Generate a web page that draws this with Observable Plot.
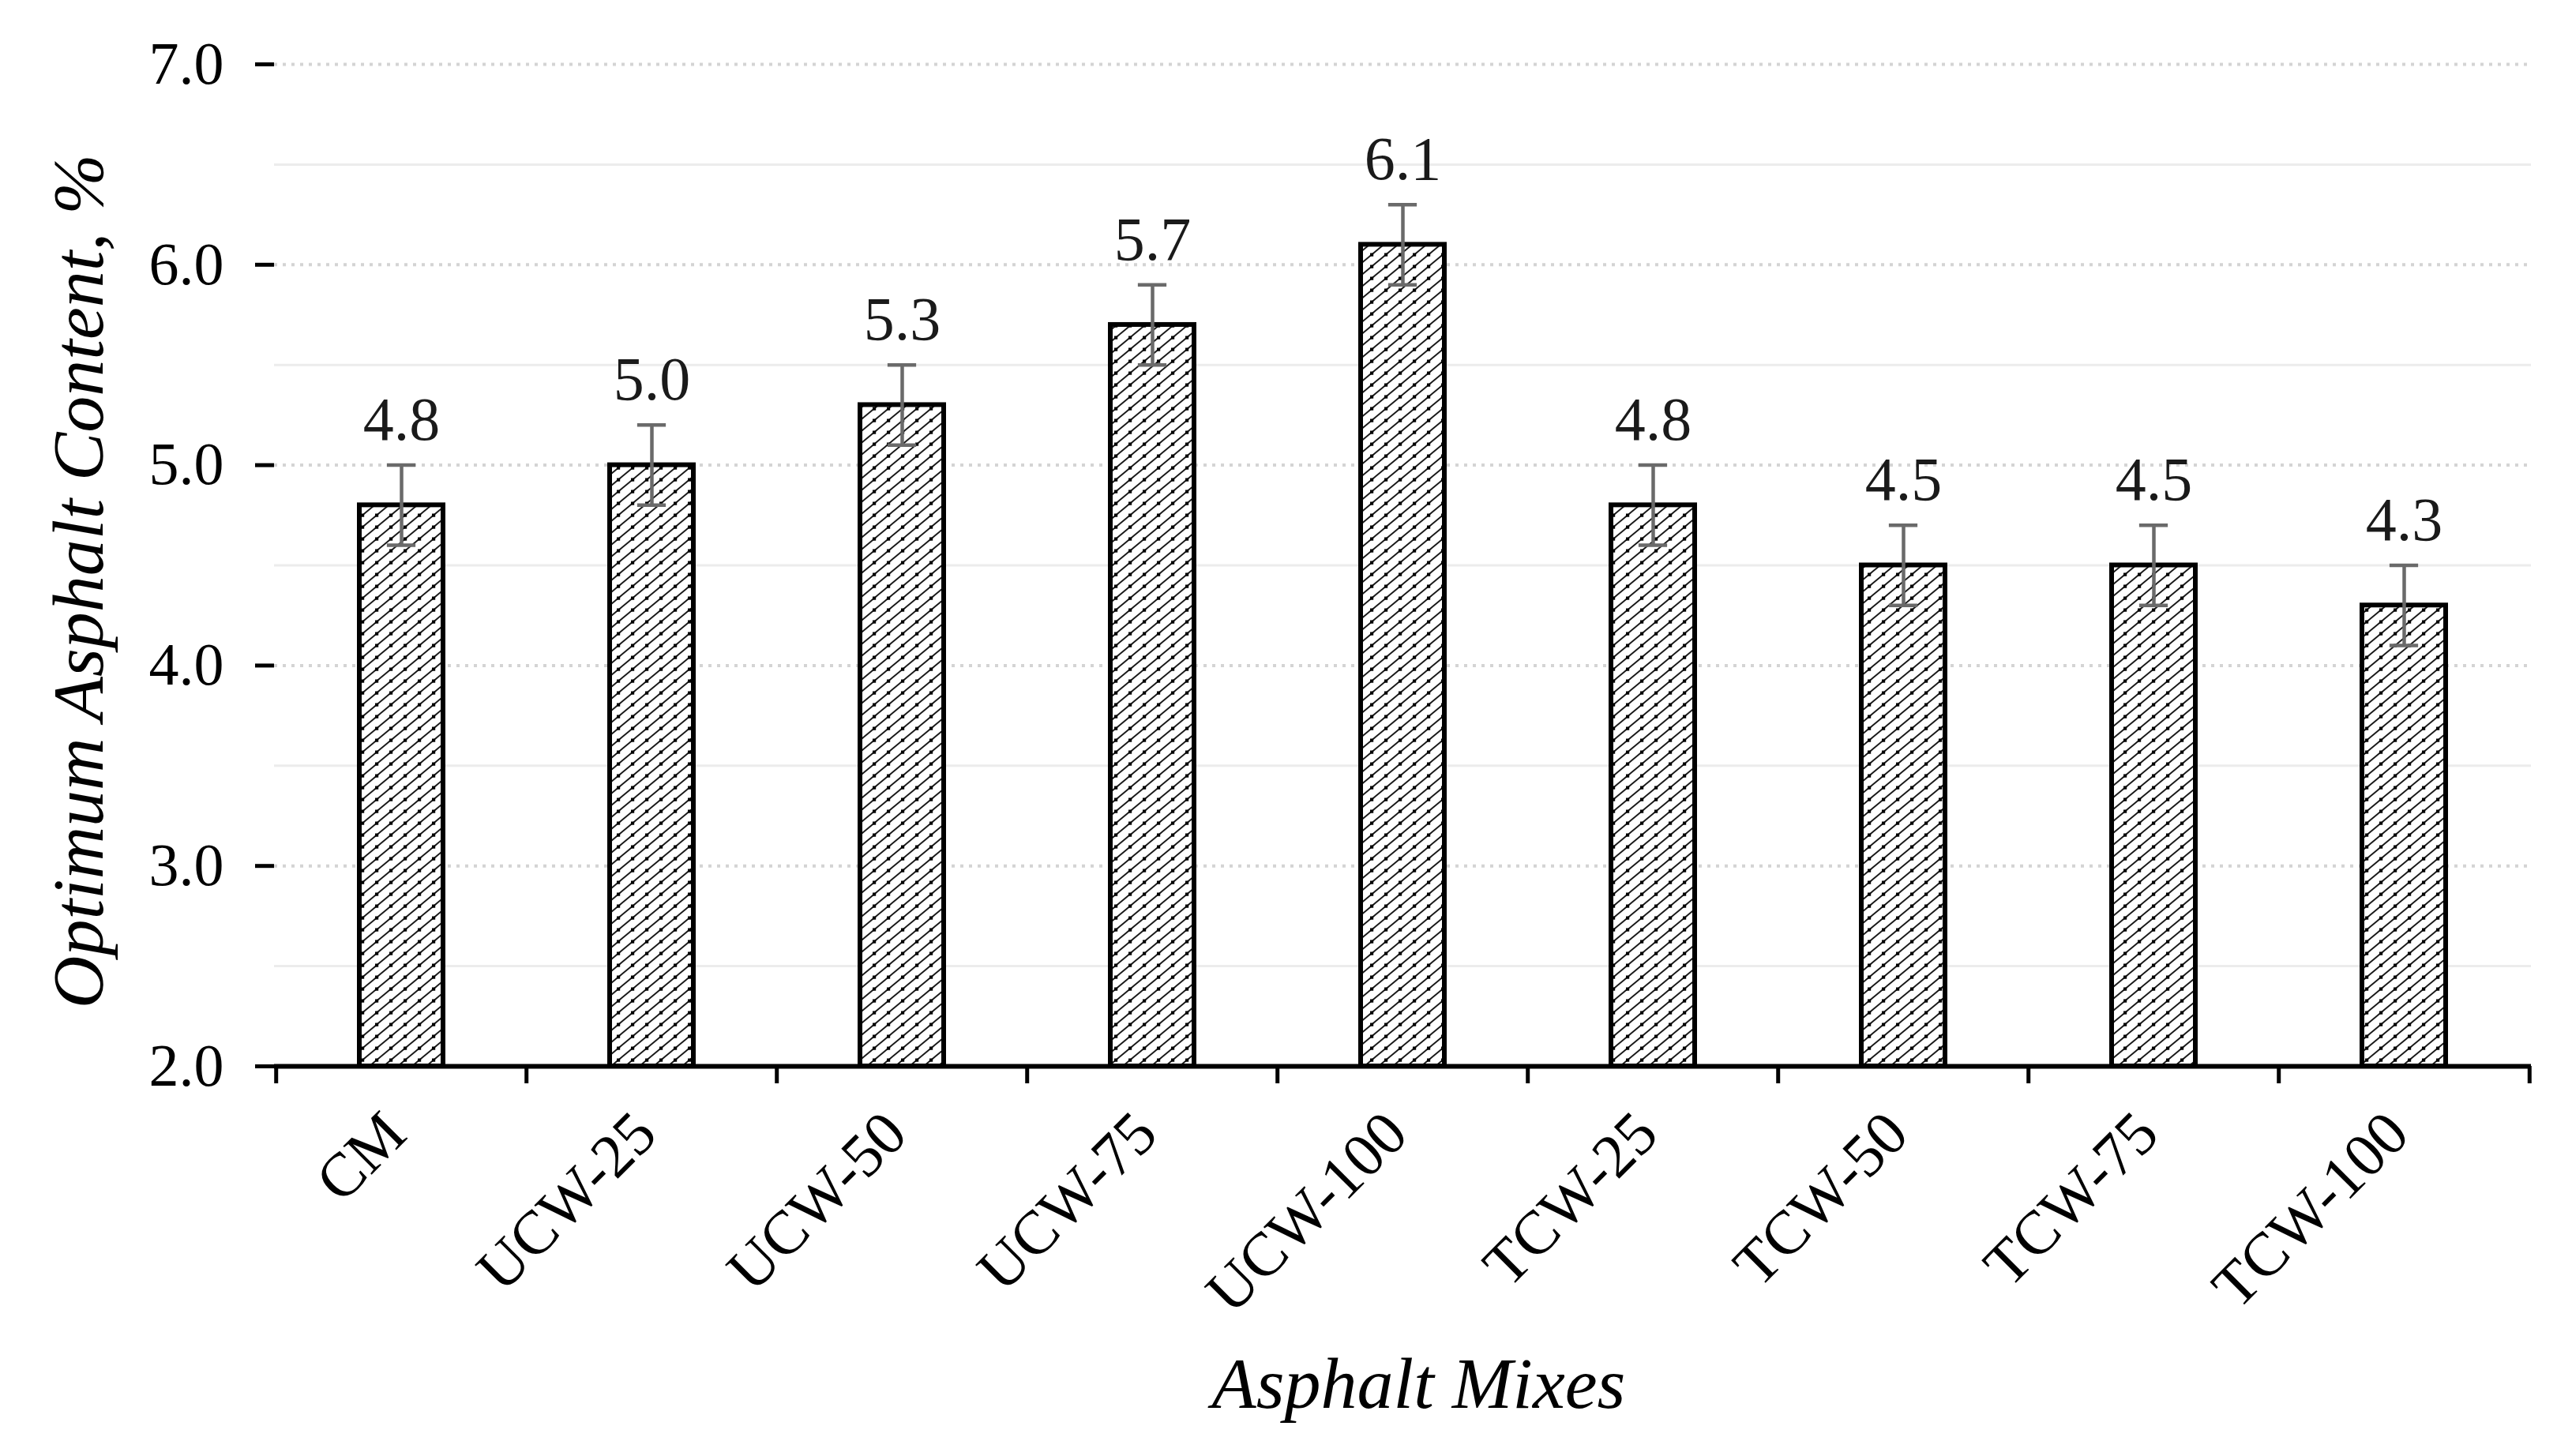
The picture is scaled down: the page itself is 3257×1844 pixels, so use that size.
<!DOCTYPE html>
<html>
<head>
<meta charset="utf-8">
<script src="https://cdn.jsdelivr.net/npm/d3@7"></script>
<script src="https://cdn.jsdelivr.net/npm/@observablehq/plot@0.6"></script>
<style>
  html, body { margin: 0; padding: 0; background: #ffffff; }
  #chart svg { display: block; }
</style>
</head>
<body>
<svg width="0" height="0" style="position:absolute">
  <defs>
    <pattern id="hatch" patternUnits="userSpaceOnUse" width="18" height="15">
      <rect width="18" height="15" fill="#ffffff"></rect>
      <path d="M-3.6,18 L21.6,-3 M-3.6,3 L3.6,-3 M14.4,18 L21.6,12" stroke="#1a1a1a" stroke-width="2"></path>
      <rect x="7" y="5.5" width="4.2" height="4.2" fill="#000"></rect>
    </pattern>
  </defs>
</svg>
<div id="chart"></div>
<script>
const categories = ["CM", "UCW-25", "UCW-50", "UCW-75", "UCW-100", "TCW-25", "TCW-50", "TCW-75", "TCW-100"];
const values = [4.8, 5.0, 5.3, 5.7, 6.1, 4.8, 4.5, 4.5, 4.3];
const errors = [0.2, 0.2, 0.2, 0.2, 0.2, 0.2, 0.2, 0.2, 0.2];
const yTicks = [2, 3, 4, 5, 6, 7];
const yMinorTicks = [2.5, 3.5, 4.5, 5.5, 6.5];
const yTitle = "Optimum Asphalt Content, %";
const xTitle = "Asphalt Mixes";

const data = categories.map((mix, i) => ({mix, value: values[i], err: errors[i]}));

const W = 3257, H = 1844;
const mL = 347, mR = 52, mT = 81, mB = 494;
const step = (W - mL - mR) / categories.length;
const bandFrac = 0.333;
const capHalf = 18;
const bandW = step * bandFrac;

const chart = Plot.plot({
  width: W,
  height: H,
  marginLeft: mL,
  marginRight: mR,
  marginTop: mT,
  marginBottom: mB,
  style: {fontFamily: "'Liberation Serif', 'Times New Roman', serif", fontSize: "76px", background: "#ffffff", color: "#000"},
  x: {domain: categories, paddingInner: 1 - bandFrac, paddingOuter: (1 - bandFrac) / 2, label: null},
  y: {domain: [2, 7], label: null},
  marks: [
    Plot.ruleY(yMinorTicks, {stroke: "#ececec", strokeWidth: 3}),
    Plot.ruleY(yTicks.slice(1), {stroke: "#d4d4d4", strokeWidth: 4, strokeDasharray: "4,7"}),
    Plot.barY(data, {x: "mix", y1: 2, y2: "value", fill: "url(#hatch)", stroke: "#000", strokeWidth: 6}),
    Plot.ruleX(data, {x: "mix", y1: d => d.value - d.err, y2: d => d.value + d.err, stroke: "#6a6a6a", strokeWidth: 4.5}),
    Plot.tickY(data, {x: "mix", y: d => d.value + d.err, insetLeft: bandW / 2 - capHalf, insetRight: bandW / 2 - capHalf, stroke: "#6a6a6a", strokeWidth: 4.5}),
    Plot.tickY(data, {x: "mix", y: d => d.value - d.err, insetLeft: bandW / 2 - capHalf, insetRight: bandW / 2 - capHalf, stroke: "#6a6a6a", strokeWidth: 4.5}),
    Plot.text(data, {x: "mix", y: d => d.value + d.err, text: d => d.value.toFixed(1), lineAnchor: "bottom", dy: -32, fontSize: 78, fill: "#1a1a1a"}),
    Plot.axisY({ticks: yTicks, tickFormat: d3.format(".1f"), tickSize: 24, tickPadding: 40, strokeWidth: 5, line: true, label: null, fontSize: 76}),
    Plot.ruleY([2], {stroke: "#000", strokeWidth: 6}),
    Plot.ruleX(categories, {x: d => d, y1: 2, y2: 2, insetBottom: -22, dx: -step / 2, stroke: "#000", strokeWidth: 5}),
    Plot.ruleX(categories.slice(-1), {x: d => d, y1: 2, y2: 2, insetBottom: -22, dx: step / 2, stroke: "#000", strokeWidth: 5}),
    Plot.axisX({tickSize: 0, tickRotate: -45, tickPadding: 72, dx: -8, label: null, fontSize: 78}),
    Plot.text([yTitle], {text: d => d, frameAnchor: "left", dx: -247, dy: 20, rotate: -90, textAnchor: "middle", fontStyle: "italic", fontSize: 92, fill: "#000"}),
    Plot.text([xTitle], {text: d => d, frameAnchor: "bottom", dx: 20, dy: 432, fontStyle: "italic", fontSize: 92, fill: "#000"})
  ]
});
document.getElementById("chart").appendChild(chart);
</script>
</body>
</html>
